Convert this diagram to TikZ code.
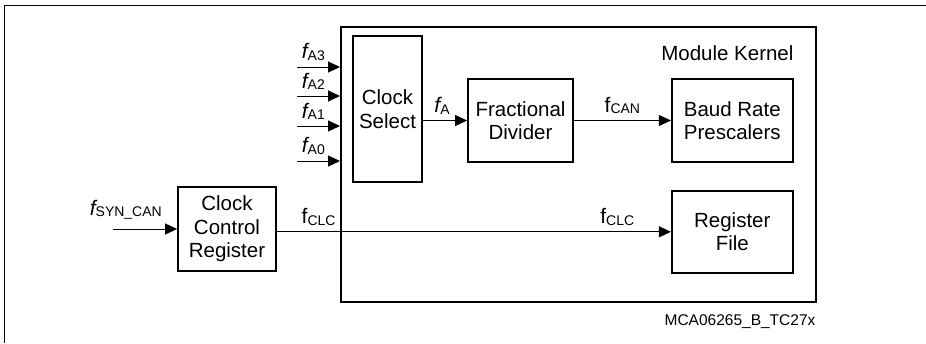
\documentclass[tikz,border=0pt]{standalone}
\usepackage{fontspec}
\setmainfont{Liberation Sans}
\usetikzlibrary{arrows.meta,positioning}

\newcommand{\freqi}[1]{{\fontsize{21}{21}\selectfont\itshape f}\raisebox{-1.5pt}{\fontsize{14}{14}\selectfont #1}}
\newcommand{\frequ}[1]{{\fontsize{21}{21}\selectfont f}\raisebox{-1.5pt}{\fontsize{14}{14}\selectfont #1}}

\begin{document}
\begin{tikzpicture}[
  x=1pt, y=-1pt,
  font=\fontsize{20.5}{23.5}\selectfont,
  box/.style={draw, line width=1.8pt, align=center, inner sep=0pt},
  arrow/.style={-{Triangle[length=12pt,width=11pt]}, line width=0.9pt},
  lbl/.style={above, inner sep=6pt}
]
\useasboundingbox (0,0) rectangle (926,343);
\draw[line width=0.9pt] (926,5) -- (4,5) -- (4,343);

% module kernel and its blocks
\node[box, line width=2pt, minimum width=475pt, minimum height=275pt] (ker) at (578.5,164.5) {};
\node[anchor=base east] (kertxt) at (797,60) {Module Kernel};
\node[box, minimum width=69pt, minimum height=146pt] (sel) at (387.5,109) {Clock\\Select};
\node[box, minimum width=105pt, minimum height=83pt] (frac) at (520.5,120.5) {Fractional\\Divider};
\node[box, minimum width=121pt, minimum height=83pt, right=97pt of frac] (baud) {Baud Rate\\Prescalers};
\node[box, minimum width=121pt, minimum height=82pt, below=27pt of baud] (reg) {Register\\File};
\node[box, minimum width=98pt, minimum height=84pt] (ccr) at (227,229) {Clock\\Control\\Register};

% clock inputs
\foreach \i/\y in {3/67,2/96,1/126,0/161} {
  \coordinate (in\i) at (297,\y);
  \draw[arrow] (in\i) -- (in\i -| ker.west) node[lbl, pos=0.38] {\freqi{A\i}};
}
\draw[arrow] (sel.east |- frac.west) -- (frac.west) node[lbl, midway, xshift=-3pt] {\freqi{A}};
\draw[arrow] (frac) -- (baud) node[lbl, midway] {\frequ{CAN}};
\draw[arrow] (ccr.east |- reg.west) -- (reg.west)
  node[lbl, pos=0.106] {\frequ{CLC}}
  node[lbl, pos=0.864] {\frequ{CLC}};
\coordinate (syn) at (113,229);
\draw[arrow] (syn) -- (ccr.west) node[lbl, pos=0.2, yshift=3pt] {\freqi{SYN\_CAN}};

\node (fig) at (740,322) {\fontsize{15.5}{15.5}\selectfont MCA06265\_B\_TC27x};
\end{tikzpicture}
\end{document}
